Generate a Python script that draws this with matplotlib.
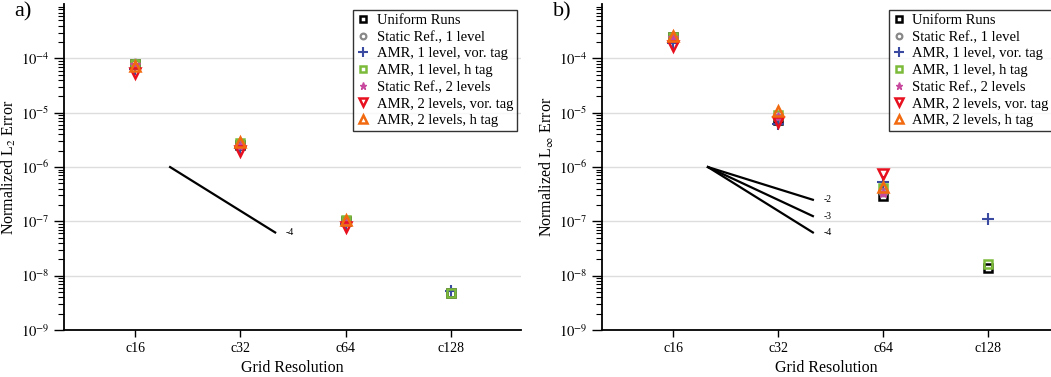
import numpy as np
import matplotlib
matplotlib.use('Agg')
import matplotlib.pyplot as plt
from matplotlib.ticker import LogLocator, FixedLocator, NullFormatter


plt.rcParams['font.family'] = ['Liberation Serif', 'DejaVu Serif']
plt.rcParams['mathtext.fontset'] = 'stix'

# grid resolutions
res = ["c16", "c32", "c64", "c128"]
nan = np.nan

# normalized L2 error, one list per run type
l2_uniform = [8.0e-5, 2.5e-6, 1.0e-7, 4.8e-9]
l2_static1 = [8.2e-5, 2.6e-6, 1.0e-7, nan]
l2_amr1_vor = [6.5e-5, 2.2e-6, 9.0e-8, 5.3e-9]
l2_amr1_h = [8.0e-5, 2.8e-6, 1.05e-7, 4.9e-9]
l2_static2 = [7.5e-5, 2.4e-6, 9.5e-8, nan]
l2_amr2_vor = [5.5e-5, 2.0e-6, 8.0e-8, nan]
l2_amr2_h = [7.2e-5, 2.9e-6, 1.05e-7, nan]

# normalized Linf error
li_uniform = [2.5e-4, 7.5e-6, 2.9e-7, 1.39e-8]
li_static1 = [2.5e-4, 8.0e-6, 3.5e-7, nan]
li_amr1_vor = [1.9e-4, 6.3e-6, 5.4e-7, 1.12e-7]
li_amr1_h = [2.5e-4, 9.2e-6, 4.1e-7, 1.64e-8]
li_static2 = [2.4e-4, 8.2e-6, 3.4e-7, nan]
li_amr2_vor = [1.7e-4, 6.9e-6, 7.4e-7, nan]
li_amr2_h = [2.6e-4, 1.1e-5, 4.3e-7, nan]

# reference slopes (order of convergence)
ref_start = 1e-6
slopes_a = [-4]
slopes_b = [-2, -3, -4]

labels = ["Uniform Runs", "Static Ref., 1 level", "AMR, 1 level, vor. tag",
          "AMR, 1 level, h tag", "Static Ref., 2 levels",
          "AMR, 2 levels, vor. tag", "AMR, 2 levels, h tag"]
styles = [
    dict(marker='s', color='black', mfc='none', mew=1.8, ms=5.5),
    dict(marker='o', color='#888888', mfc='none', mew=1.6, ms=5.5),
    dict(marker='+', color='#3a4aa0', mew=1.5, ms=9),
    dict(marker='s', color='#7cbb3a', mfc='none', mew=1.8, ms=5.5),
    dict(marker='*', color='#c8489e', mew=1.0, ms=7),
    dict(marker='v', color='#e8101e', mfc='none', mew=1.8, ms=7),
    dict(marker='^', color='#f26a10', mfc='none', mew=1.8, ms=7),
]


def draw(ax, series, slopes, ylabel, tag, xmax, leg_x):
    x = np.arange(len(res))
    for vals, lab, st in zip(series, labels, styles):
        ax.plot(x, vals, ls='none', label=lab, **st)
    for s in slopes:
        x0, x1 = 0.33, 1.33
        ax.plot([x0, x1], [ref_start, ref_start * 2.0 ** s], color='black', lw=1.6)
        ax.text(x1 + 0.1, ref_start * 2.0 ** s, str(s), fontsize=7,
                va='center', ha='left')
    ax.set_yscale('log')
    ax.set_ylim(1e-9, 1e-3)
    ax.set_xlim(-0.68, xmax)
    ax.yaxis.set_major_locator(FixedLocator([1e-9, 1e-8, 1e-7, 1e-6, 1e-5, 1e-4]))
    ax.yaxis.set_minor_locator(LogLocator(base=10, subs=np.arange(2, 10), numticks=20))
    ax.yaxis.set_minor_formatter(NullFormatter())
    ax.set_yticklabels([r'$10^{%d}$' % e for e in range(-9, -3)])
    ax.set_xticks(x)
    ax.set_xticklabels(res)
    ax.tick_params(axis='y', which='major', direction='out', length=7, width=1, labelsize=10.5)
    ax.tick_params(axis='y', which='minor', direction='out', length=4, width=0.8)
    ax.tick_params(axis='x', direction='out', length=5, width=1, labelsize=10)
    ax.grid(axis='y', which='major', color='#dddddd', lw=1)
    ax.set_axisbelow(True)
    for sp in ['top', 'right']:
        ax.spines[sp].set_visible(False)
    ax.spines['left'].set_linewidth(1.3)
    ax.spines['bottom'].set_linewidth(1.3)
    ax.set_xlabel("Grid Resolution", fontsize=11.5, labelpad=4)
    ax.set_ylabel(ylabel, fontsize=11.5, labelpad=2)
    leg = ax.legend(loc='upper right', bbox_to_anchor=(leg_x, 0.995),
                    fontsize=10.5, frameon=True, fancybox=False, edgecolor='black',
                    handlelength=0.9, handletextpad=0.45, borderpad=0.25,
                    labelspacing=0.24, borderaxespad=0.3, numpoints=1,
                    markerscale=0.75)
    leg.get_frame().set_linewidth(1.0)
    ax.figure.text(ax.get_position().x0 - 0.047, 0.955, tag, fontsize=16)


fig = plt.figure(figsize=(10.51, 3.77), dpi=100)
ax1 = fig.add_axes([0.0609, 0.1247, 0.4348, 0.8643])
ax2 = fig.add_axes([0.5728, 0.1247, 0.4272, 0.8643])

draw(ax1, [l2_uniform, l2_static1, l2_amr1_vor, l2_amr1_h, l2_static2, l2_amr2_vor, l2_amr2_h],
     slopes_a, r"Normalized L$_2$ Error", "a)", 3.67, 1.0)
draw(ax2, [li_uniform, li_static1, li_amr1_vor, li_amr1_h, li_static2, li_amr2_vor, li_amr2_h],
     slopes_b, r"Normalized L$_\infty$ Error", "b)", 3.6, 1.012)

fig.savefig("out.png", dpi=100)
